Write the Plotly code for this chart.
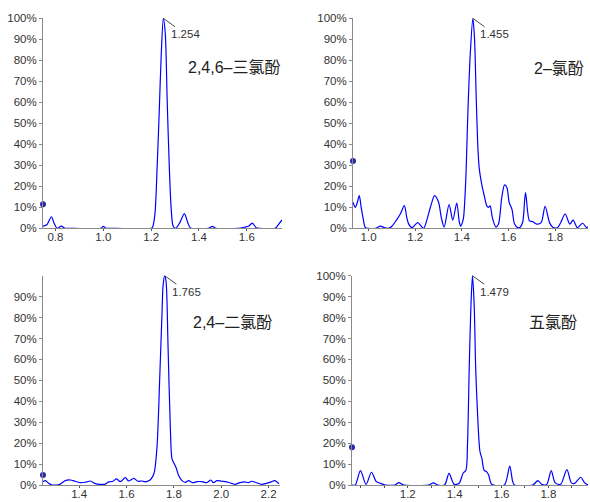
import plotly.graph_objects as go

# ---------------- data ----------------
names = ["2,4,6–三氯酚", "2–氯酚", "2,4–二氯酚", "五氯酚"]
peak_rt = ["1.254", "1.455", "1.765", "1.479"]
start_marks = [11.4, 32.0, 4.8, 18.0]

tcp_x = [0.748, 0.765, 0.783, 0.794, 0.807, 0.825, 0.839, 0.853, 0.99, 1.0, 1.012, 1.023,
         1.2, 1.206, 1.216, 1.225, 1.234, 1.242, 1.251, 1.259, 1.267, 1.276, 1.284, 1.292,
         1.303, 1.32, 1.339, 1.353, 1.366, 1.439, 1.456, 1.471, 1.565, 1.593, 1.607, 1.623,
         1.639, 1.653, 1.718, 1.732, 1.747]
tcp_y = [1.0, 1.8, 5.5, 2.5, 0, 1.0, 0, 0, 0, 0.9, 0, 0,
         0, 0.5, 7, 29, 56, 82, 100, 93, 61, 29, 9, 1,
         0, 2.7, 7, 2.7, 0, 0, 0.9, 0, 0, 0.6, 1, 2.5,
         0.3, 0, 0, 1.8, 4]

cp_x = [0.933, 0.943, 0.952, 0.960, 0.968, 0.976, 0.986, 1.00, 1.03, 1.05, 1.07, 1.086,
        1.10, 1.12, 1.136, 1.153, 1.164, 1.172, 1.186, 1.21, 1.222, 1.236, 1.25, 1.265,
        1.283, 1.30, 1.312, 1.324, 1.345, 1.361, 1.378, 1.389, 1.395, 1.400, 1.407, 1.417,
        1.426, 1.436, 1.447, 1.454, 1.461, 1.468, 1.474, 1.485, 1.496, 1.507, 1.514, 1.521,
        1.531, 1.546, 1.557, 1.571, 1.583, 1.593, 1.603, 1.615, 1.626, 1.640, 1.650, 1.661,
        1.673, 1.69, 1.704, 1.721, 1.74, 1.757, 1.776, 1.79, 1.81, 1.825, 1.843, 1.863,
        1.877, 1.896, 1.918, 1.935, 1.941]
cp_y = [12.4, 10, 12.5, 15.6, 10, 5, 0.3, 0, 0, 1, 0.2, 0,
        1, 4, 6.8, 10.8, 5, 2, 0.3, 2.7, 1.5, 0, 4, 10,
        15.6, 12.4, 5, 0.6, 11.3, 3.9, 12, 3, 1, 2, 5, 24,
        56, 83, 100, 91, 64, 40, 29, 21, 15.5, 10.7, 10, 10.7,
        5, 0.6, 2, 14.6, 20.7, 19.4, 12.3, 9, 2, 0.3, 0.5, 3,
        17, 3.5, 3.2, 2, 2.7, 10.5, 2.7, 0.5, 0.3, 3, 6.8, 2,
        3.9, 0.3, 2.4, 0.3, 0.8]

dcp_x = [1.247, 1.257, 1.271, 1.285, 1.306, 1.32, 1.341, 1.362, 1.383, 1.405, 1.426, 1.447,
         1.465, 1.489, 1.51, 1.524, 1.543, 1.557, 1.574, 1.595, 1.609, 1.63, 1.648, 1.665,
         1.679, 1.696, 1.71, 1.717, 1.729, 1.74, 1.75, 1.754, 1.761, 1.767, 1.775, 1.785,
         1.792, 1.802, 1.81, 1.82, 1.834, 1.848, 1.862, 1.88, 1.897, 1.918, 1.939, 1.956,
         1.967, 1.981, 2.002, 2.023, 2.044, 2.058, 2.079, 2.1, 2.114, 2.128, 2.149, 2.17,
         2.191, 2.212, 2.226, 2.244]
dcp_y = [1.6, 2.1, 0.8, 0, 0, 0.4, 2.1, 2.4, 1.8, 1.1, 1.3, 1.9,
         0.8, 0.3, 0.4, 1.5, 1.8, 2.9, 1.6, 3.5, 1.9, 3.2, 1.8, 1.9,
         1.5, 2.1, 4, 6, 19, 51, 83, 95, 100, 97, 67, 27,
         12.5, 10, 8, 4.5, 2.1, 1.3, 2.1, 1.1, 1.6, 1.6, 1.1, 2.4,
         1.1, 2.1, 1.8, 1.5, 0.8, 0.3, 1.1, 1.5, 1.1, 1.8, 1.1, 0.3,
         0.8, 1.5, 2.1, 0.6]

pcp_x = [0.962, 0.976, 0.998, 1.022, 1.045, 1.066, 1.083, 1.105, 1.145, 1.162, 1.183, 1.29,
         1.309, 1.329, 1.357, 1.376, 1.398, 1.419, 1.436, 1.448, 1.455, 1.462, 1.469, 1.476,
         1.483, 1.490, 1.499, 1.508, 1.516, 1.526, 1.536, 1.545, 1.555, 1.565, 1.612, 1.635,
         1.647, 1.655, 1.733, 1.755, 1.772, 1.793, 1.812, 1.829, 1.852, 1.879, 1.898, 1.912,
         1.938, 1.955, 1.969]
pcp_y = [0, 0, 6.9, 0.3, 6.1, 1.6, 0.8, 0, 0, 1.1, 0, 0,
         1.0, 0, 0, 5.6, 0.3, 0.8, 5.6, 7, 20, 55, 84, 100,
         87, 55, 31, 16, 12.8, 7, 6.4, 4.8, 0.8, 0, 0, 9,
         2, 0, 0, 2.1, 0.3, 0.3, 6.9, 1, 0.3, 7.3, 1, 0.8,
         3.7, 1, 0]

series = [(tcp_x, tcp_y), (cp_x, cp_y), (dcp_x, dcp_y), (pcp_x, pcp_y)]
x_ranges = [[0.748, 1.747], [0.933, 1.941], [1.247, 2.246], [0.962, 1.969]]
x_ticks = [[0.8, 1.0, 1.2, 1.4, 1.6], [1.0, 1.2, 1.4, 1.6, 1.8],
           [1.4, 1.6, 1.8, 2.0, 2.2], [1.2, 1.4, 1.6, 1.8]]
y_ticks = [list(range(0, 101, 10)), list(range(0, 101, 10)),
           list(range(0, 91, 10)), list(range(0, 101, 10))]

# ---------------- layout geometry (pixels) ----------------
W, H = 590, 502
x_dom_px = [(43, 282), (353, 588), (43, 279.5), (352, 588)]
y_dom_px = [(18.3, 228.3), (18.3, 228.3), (275.7, 485), (275.7, 485)]
name_pos_px = [(283, 67), (586, 68), (274, 322), (579, 322)]

FONT = "Liberation Sans, Arial, Noto Sans CJK SC, sans-serif"
fig = go.Figure()
layout = dict(width=W, height=H, margin=dict(l=0, r=0, t=0, b=0, autoexpand=False),
              template="none",
              paper_bgcolor="white", plot_bgcolor="white", showlegend=False,
              font=dict(family=FONT, size=11.5, color="#333333"))
annotations = []

for i, (xs, ys) in enumerate(series):
    k = "" if i == 0 else str(i + 1)
    xa, ya = "x" + k, "y" + k
    fig.add_trace(go.Scatter(x=xs, y=ys, mode="lines", xaxis=xa, yaxis=ya,
                             line=dict(color="#0000ff", width=1.2, shape="spline", smoothing=0.8),
                             hoverinfo="skip"))
    fig.add_trace(go.Scatter(x=[x_ranges[i][0]], y=[start_marks[i]], mode="markers",
                             xaxis=xa, yaxis=ya, cliponaxis=False,
                             marker=dict(color="#2a2aa8", size=6, symbol="circle",
                                         line=dict(width=0)),
                             hoverinfo="skip"))
    x0, x1 = x_dom_px[i]
    y0, y1 = y_dom_px[i]
    xax = dict(domain=[x0 / W, x1 / W], range=x_ranges[i], anchor=ya, automargin=False,
               showgrid=False, zeroline=False, showline=True, linecolor="#8a8a8a",
               linewidth=1, ticks="outside", ticklen=2, tickcolor="#555555",
               ticklabelstandoff=-4,
               tickvals=x_ticks[i], ticktext=[f"{v:.1f}" for v in x_ticks[i]],
               tickfont=dict(size=11.5, color="#333333"), fixedrange=True)
    if i == 3:
        xax["minor"] = dict(dtick=0.1, ticklen=2, ticks="outside", tickcolor="#555555", tick0=1.0)
    yax = dict(domain=[1 - y1 / H, 1 - y0 / H], range=[0, 100], anchor=xa, automargin=False,
               showgrid=False, zeroline=False, showline=True, linecolor="#8a8a8a",
               linewidth=1, ticks="outside", ticklen=3, tickcolor="#8a8a8a",
               tickvals=y_ticks[i], ticktext=[f"{v}%" for v in y_ticks[i]],
               tickfont=dict(size=11.5, color="#333333"), fixedrange=True)
    layout["xaxis" + k] = xax
    layout["yaxis" + k] = yax

    # peak label with leader line
    pk = ys.index(max(ys))
    annotations.append(dict(x=xs[pk], y=ys[pk], xref=xa, yref=ya, text=peak_rt[i],
                            showarrow=True, arrowhead=0, arrowwidth=0.9, arrowcolor="#333333",
                            ax=22, ay=16, standoff=0, startstandoff=0,
                            font=dict(size=11.5, color="#333333", family=FONT)))
    # compound name
    nx, ny = name_pos_px[i]
    annotations.append(dict(x=nx / W, y=1 - ny / H, xref="paper", yref="paper",
                            text=names[i], showarrow=False, xanchor="right", yanchor="middle",
                            font=dict(size=16, color="#222222", family=FONT)))

layout["annotations"] = annotations
fig.update_layout(**layout)
fig.write_html("out.html", config={"displayModeBar": False, "staticPlot": True},
               post_script="document.body.style.margin='0px';document.body.style.overflow='hidden';")
